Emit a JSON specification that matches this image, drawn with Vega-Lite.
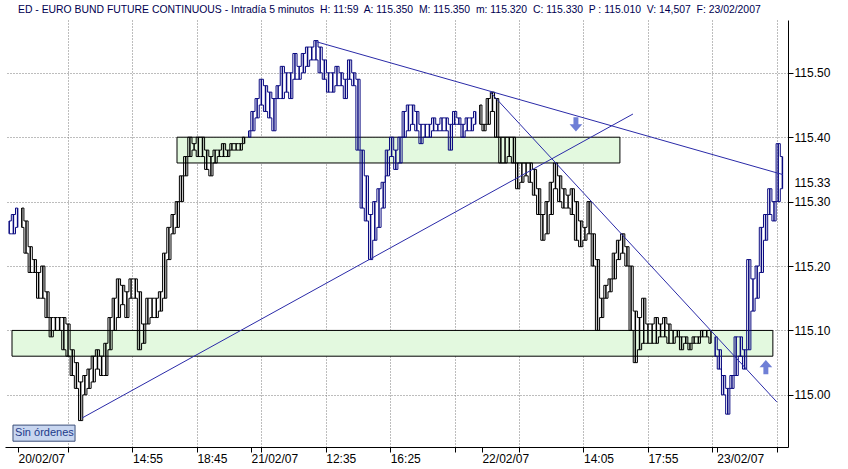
{
"$schema": "https://vega.github.io/schema/vega-lite/v6.json",
"width": 783,
"height": 427,
"autosize": {"type": "none"},
"padding": {"left": 5, "top": 20, "right": 60, "bottom": 22},
"background": "#ffffff",
"config": {"view": {"stroke": null}, "font": "Liberation Sans"},
"title": {"text": "ED - EURO BUND FUTURE CONTINUOUS - Intradía 5 minutos\u00a0 H: 11:59\u00a0 A: 115.350\u00a0 M: 115.350\u00a0 m: 115.320\u00a0 C: 115.330\u00a0 P : 115.010\u00a0 V: 14,507\u00a0 F: 23/02/2007", "anchor": "start", "align": "left", "frame": "group", "orient": "top", "offset": 5, "dx": 13, "fontSize": 10.4, "fontWeight": "normal", "font": "Liberation Sans", "color": "#000050"},
"datasets": {
"bars": [
{"k":3,"h":115.27,"l":115.25,"phase":"1"},{"k":6,"h":115.28,"l":115.25,"phase":"1"},{"k":9,"h":115.29,"l":115.26,"phase":"1"},
{"k":12,"h":115.29,"l":115.26,"phase":"2"},{"k":15,"h":115.27,"l":115.22,"phase":"2"},{"k":18,"h":115.23,"l":115.19,"phase":"2"},{"k":21,"h":115.21,"l":115.19,"phase":"2"},{"k":24,"h":115.19,"l":115.15,"phase":"2"},{"k":27,"h":115.20,"l":115.15,"phase":"2"},{"k":30,"h":115.16,"l":115.12,"phase":"2"},{"k":33,"h":115.12,"l":115.09,"phase":"2"},{"k":36,"h":115.12,"l":115.10,"phase":"2"},{"k":39,"h":115.12,"l":115.10,"phase":"2"},{"k":42,"h":115.12,"l":115.07,"phase":"2"},{"k":45,"h":115.11,"l":115.06,"phase":"2"},{"k":48,"h":115.07,"l":115.03,"phase":"2"},{"k":51,"h":115.05,"l":115.01,"phase":"2"},{"k":54,"h":115.02,"l":114.96,"phase":"2"},{"k":57,"h":115.03,"l":115.00,"phase":"2"},{"k":60,"h":115.04,"l":115.01,"phase":"2"},{"k":63,"h":115.06,"l":115.02,"phase":"2"},{"k":66,"h":115.07,"l":115.04,"phase":"2"},{"k":69,"h":115.06,"l":115.03,"phase":"2"},{"k":72,"h":115.08,"l":115.03,"phase":"2"},{"k":75,"h":115.12,"l":115.07,"phase":"2"},{"k":78,"h":115.15,"l":115.10,"phase":"2"},{"k":81,"h":115.18,"l":115.12,"phase":"2"},{"k":84,"h":115.17,"l":115.14,"phase":"2"},{"k":87,"h":115.16,"l":115.12,"phase":"2"},{"k":90,"h":115.18,"l":115.15,"phase":"2"},{"k":93,"h":115.18,"l":115.15,"phase":"2"},{"k":96,"h":115.16,"l":115.07,"phase":"2"},{"k":99,"h":115.11,"l":115.08,"phase":"2"},{"k":102,"h":115.15,"l":115.11,"phase":"2"},{"k":105,"h":115.15,"l":115.12,"phase":"2"},{"k":108,"h":115.15,"l":115.12,"phase":"2"},{"k":111,"h":115.16,"l":115.13,"phase":"2"},{"k":114,"h":115.22,"l":115.15,"phase":"2"},{"k":117,"h":115.26,"l":115.21,"phase":"2"},{"k":120,"h":115.28,"l":115.25,"phase":"2"},{"k":123,"h":115.30,"l":115.26,"phase":"2"},{"k":126,"h":115.34,"l":115.30,"phase":"2"},{"k":129,"h":115.37,"l":115.34,"phase":"2"},{"k":132,"h":115.40,"l":115.37,"phase":"2"},{"k":135,"h":115.39,"l":115.38,"phase":"2"},{"k":138,"h":115.40,"l":115.37,"phase":"2"},{"k":141,"h":115.40,"l":115.37,"phase":"2"},{"k":144,"h":115.38,"l":115.35,"phase":"2"},{"k":147,"h":115.37,"l":115.34,"phase":"2"},{"k":150,"h":115.38,"l":115.36,"phase":"2"},{"k":153,"h":115.38,"l":115.37,"phase":"2"},{"k":156,"h":115.39,"l":115.37,"phase":"2"},{"k":159,"h":115.38,"l":115.37,"phase":"2"},{"k":162,"h":115.39,"l":115.38,"phase":"2"},{"k":165,"h":115.39,"l":115.38,"phase":"2"},{"k":168,"h":115.39,"l":115.38,"phase":"2"},{"k":171,"h":115.40,"l":115.39,"phase":"2"},
{"k":174,"h":115.41,"l":115.40,"phase":"3"},{"k":177,"h":115.44,"l":115.41,"phase":"3"},{"k":180,"h":115.46,"l":115.43,"phase":"3"},{"k":183,"h":115.49,"l":115.45,"phase":"3"},{"k":186,"h":115.48,"l":115.44,"phase":"3"},{"k":189,"h":115.47,"l":115.43,"phase":"3"},{"k":192,"h":115.46,"l":115.41,"phase":"3"},{"k":195,"h":115.48,"l":115.46,"phase":"3"},{"k":198,"h":115.51,"l":115.46,"phase":"3"},{"k":201,"h":115.50,"l":115.47,"phase":"3"},{"k":204,"h":115.50,"l":115.46,"phase":"3"},{"k":207,"h":115.53,"l":115.49,"phase":"3"},{"k":210,"h":115.51,"l":115.49,"phase":"3"},{"k":213,"h":115.53,"l":115.50,"phase":"3"},{"k":216,"h":115.54,"l":115.51,"phase":"3"},{"k":219,"h":115.54,"l":115.52,"phase":"3"},{"k":222,"h":115.55,"l":115.52,"phase":"3"},{"k":225,"h":115.54,"l":115.50,"phase":"3"},{"k":228,"h":115.52,"l":115.49,"phase":"3"},{"k":231,"h":115.50,"l":115.47,"phase":"3"},{"k":234,"h":115.50,"l":115.47,"phase":"3"},{"k":237,"h":115.51,"l":115.48,"phase":"3"},{"k":240,"h":115.50,"l":115.48,"phase":"3"},{"k":243,"h":115.49,"l":115.46,"phase":"3"},{"k":246,"h":115.52,"l":115.49,"phase":"3"},{"k":249,"h":115.50,"l":115.48,"phase":"3"},{"k":252,"h":115.49,"l":115.38,"phase":"3"},{"k":255,"h":115.38,"l":115.29,"phase":"3"},{"k":258,"h":115.34,"l":115.27,"phase":"3"},{"k":261,"h":115.28,"l":115.21,"phase":"3"},{"k":264,"h":115.30,"l":115.24,"phase":"3"},{"k":267,"h":115.32,"l":115.26,"phase":"3"},{"k":270,"h":115.33,"l":115.29,"phase":"3"},{"k":273,"h":115.38,"l":115.34,"phase":"3"},{"k":276,"h":115.40,"l":115.37,"phase":"3"},{"k":279,"h":115.38,"l":115.35,"phase":"3"},{"k":282,"h":115.40,"l":115.36,"phase":"3"},{"k":285,"h":115.44,"l":115.40,"phase":"3"},{"k":288,"h":115.45,"l":115.41,"phase":"3"},{"k":291,"h":115.45,"l":115.42,"phase":"3"},{"k":294,"h":115.44,"l":115.41,"phase":"3"},{"k":297,"h":115.42,"l":115.39,"phase":"3"},{"k":300,"h":115.42,"l":115.40,"phase":"3"},{"k":303,"h":115.42,"l":115.40,"phase":"3"},{"k":306,"h":115.43,"l":115.41,"phase":"3"},{"k":309,"h":115.42,"l":115.41,"phase":"3"},{"k":312,"h":115.43,"l":115.41,"phase":"3"},{"k":315,"h":115.43,"l":115.41,"phase":"3"},{"k":318,"h":115.42,"l":115.38,"phase":"3"},{"k":321,"h":115.44,"l":115.42,"phase":"3"},{"k":324,"h":115.43,"l":115.42,"phase":"3"},{"k":327,"h":115.42,"l":115.40,"phase":"3"},{"k":330,"h":115.43,"l":115.41,"phase":"3"},{"k":333,"h":115.43,"l":115.41,"phase":"3"},{"k":336,"h":115.44,"l":115.42,"phase":"3"},
{"k":339,"h":115.45,"l":115.42,"phase":"4"},{"k":342,"h":115.42,"l":115.41,"phase":"4"},{"k":345,"h":115.46,"l":115.42,"phase":"4"},{"k":348,"h":115.47,"l":115.44,"phase":"4"},{"k":351,"h":115.46,"l":115.40,"phase":"4"},{"k":354,"h":115.40,"l":115.36,"phase":"4"},{"k":357,"h":115.40,"l":115.36,"phase":"4"},{"k":360,"h":115.40,"l":115.37,"phase":"4"},{"k":363,"h":115.40,"l":115.36,"phase":"4"},{"k":366,"h":115.36,"l":115.32,"phase":"4"},{"k":369,"h":115.36,"l":115.33,"phase":"4"},{"k":372,"h":115.36,"l":115.34,"phase":"4"},{"k":375,"h":115.36,"l":115.33,"phase":"4"},{"k":378,"h":115.35,"l":115.31,"phase":"4"},{"k":381,"h":115.32,"l":115.28,"phase":"4"},{"k":384,"h":115.28,"l":115.24,"phase":"4"},{"k":387,"h":115.30,"l":115.25,"phase":"4"},{"k":390,"h":115.33,"l":115.28,"phase":"4"},{"k":393,"h":115.36,"l":115.32,"phase":"4"},{"k":396,"h":115.34,"l":115.30,"phase":"4"},{"k":399,"h":115.32,"l":115.29,"phase":"4"},{"k":402,"h":115.31,"l":115.29,"phase":"4"},{"k":405,"h":115.32,"l":115.28,"phase":"4"},{"k":408,"h":115.30,"l":115.24,"phase":"4"},{"k":411,"h":115.27,"l":115.23,"phase":"4"},{"k":414,"h":115.26,"l":115.24,"phase":"4"},{"k":417,"h":115.30,"l":115.25,"phase":"4"},{"k":420,"h":115.25,"l":115.20,"phase":"4"},{"k":423,"h":115.21,"l":115.10,"phase":"4"},{"k":426,"h":115.15,"l":115.12,"phase":"4"},{"k":429,"h":115.17,"l":115.15,"phase":"4"},{"k":432,"h":115.18,"l":115.16,"phase":"4"},{"k":435,"h":115.22,"l":115.18,"phase":"4"},{"k":438,"h":115.24,"l":115.21,"phase":"4"},{"k":441,"h":115.25,"l":115.22,"phase":"4"},{"k":444,"h":115.23,"l":115.20,"phase":"4"},{"k":447,"h":115.20,"l":115.10,"phase":"4"},{"k":450,"h":115.13,"l":115.05,"phase":"4"},{"k":453,"h":115.12,"l":115.07,"phase":"4"},{"k":456,"h":115.15,"l":115.08,"phase":"4"},{"k":459,"h":115.11,"l":115.08,"phase":"4"},{"k":462,"h":115.11,"l":115.08,"phase":"4"},{"k":465,"h":115.12,"l":115.08,"phase":"4"},{"k":468,"h":115.11,"l":115.09,"phase":"4"},{"k":471,"h":115.12,"l":115.09,"phase":"4"},{"k":474,"h":115.11,"l":115.08,"phase":"4"},{"k":477,"h":115.10,"l":115.08,"phase":"4"},{"k":480,"h":115.10,"l":115.09,"phase":"4"},{"k":483,"h":115.09,"l":115.07,"phase":"4"},{"k":486,"h":115.09,"l":115.08,"phase":"4"},{"k":489,"h":115.08,"l":115.07,"phase":"4"},{"k":492,"h":115.09,"l":115.08,"phase":"4"},{"k":495,"h":115.09,"l":115.08,"phase":"4"},{"k":498,"h":115.10,"l":115.09,"phase":"4"},{"k":501,"h":115.10,"l":115.09,"phase":"4"},{"k":504,"h":115.10,"l":115.08,"phase":"4"},
{"k":507,"h":115.09,"l":115.06,"phase":"5"},{"k":510,"h":115.07,"l":115.04,"phase":"5"},{"k":513,"h":115.03,"l":115.00,"phase":"5"},{"k":516,"h":115.01,"l":114.97,"phase":"5"},{"k":519,"h":115.03,"l":115.01,"phase":"5"},{"k":522,"h":115.09,"l":115.03,"phase":"5"},{"k":525,"h":115.09,"l":115.06,"phase":"5"},{"k":528,"h":115.07,"l":115.04,"phase":"5"},{"k":531,"h":115.21,"l":115.07,"phase":"5"},{"k":534,"h":115.18,"l":115.13,"phase":"5"},{"k":537,"h":115.20,"l":115.15,"phase":"5"},{"k":540,"h":115.26,"l":115.19,"phase":"5"},{"k":543,"h":115.28,"l":115.24,"phase":"5"},{"k":546,"h":115.32,"l":115.28,"phase":"5"},{"k":549,"h":115.30,"l":115.27,"phase":"5"},{"k":552,"h":115.39,"l":115.30,"phase":"5"},{"k":555,"h":115.37,"l":115.32,"phase":"5"}
],
"zones": [
{"k1":122.8,"k2":439,"p1":115.40,"p2":115.36},
{"k1":5,"k2":548.2,"p1":115.10,"p2":115.06}
],
"lines": [
{"id":"a","k":55,"p":114.964},{"id":"a","k":448.3,"p":115.436},
{"id":"b","k":222.7,"p":115.548},{"id":"b","k":555.3,"p":115.342},
{"id":"c","k":346.2,"p":115.4705},{"id":"c","k":551,"p":114.989}
],
"arrows": [
{"k":407.6,"p":115.42,"dir":"down"},
{"k":543.2,"p":115.043,"dir":"up"}
],
"notes": [
{"k1":5.7,"k2":50,"p1":114.953,"p2":114.928,"kt":7.2,"pt":114.9405,"label":"Sin órdenes"}
]
},
"layer": [
{
"data": {"name": "zones"},
"mark": {"type": "rect", "fill": "#e3f9df", "stroke": "#000000", "strokeWidth": 1},
"encoding": {
"x": {"field": "k1", "type": "quantitative", "scale": {"domain": [0, 559], "nice": false, "zero": false},
"axis": {"title": null, "orient": "bottom", "values": [9.3, 45, 91, 137, 175.6, 183, 229, 275, 321, 340.5, 367, 413, 459, 505, 508.2, 551],
"labelExpr": "datum.value == 9.3 ? '20/02/07' : datum.value == 91 ? '14:55' : datum.value == 137 ? '18:45' : datum.value == 175.6 ? '21/02/07' : datum.value == 229 ? '12:35' : datum.value == 275 ? '16:25' : datum.value == 340.5 ? '22/02/07' : datum.value == 413 ? '14:05' : datum.value == 459 ? '17:55' : datum.value == 508.2 ? '23/02/07' : ''",
"labelAlign": "left", "labelBaseline": "top", "labelPadding": 1, "labelFontSize": 12, "labelFont": "Liberation Sans", "labelColor": "#000000", "labelOverlap": false, "labelFlush": false,
"tickColor": "#000000", "tickSize": 5, "domainColor": "#000000",
"grid": true, "gridColor": "#7a7a7a", "gridDash": [1, 2],
"gridOpacity": {"condition": {"test": "datum.value == 9.3 || datum.value == 175.6 || datum.value == 340.5 || datum.value == 508.2", "value": 0}, "value": 1}}},
"x2": {"field": "k2"},
"y": {"field": "p1", "type": "quantitative", "scale": {"domain": [114.919, 115.582], "nice": false, "zero": false},
"axis": {"title": null, "orient": "right", "values": [115, 115.1, 115.2, 115.3, 115.33, 115.4, 115.5],
"labelExpr": "format(datum.value, '.2f')", "labelFontSize": 12, "labelFont": "Liberation Sans", "labelColor": "#000000", "labelPadding": 1, "labelOverlap": false, "labelFlush": false,
"tickSize": 5, "tickColor": "#000000", "domainColor": "#000000",
"grid": true, "gridColor": "#7a7a7a", "gridDash": [1, 2],
"gridOpacity": {"condition": {"test": "datum.value == 115.33", "value": 0}, "value": 1},
"tickOpacity": {"condition": {"test": "datum.value == 115.33", "value": 0}, "value": 1}}},
"y2": {"field": "p2"}
}
},
{
"data": {"name": "bars"},
"mark": {"type": "rule", "strokeWidth": 1.5},
"encoding": {
"x": {"field": "k", "type": "quantitative"},
"y": {"field": "l", "type": "quantitative"},
"y2": {"field": "h"},
"color": {"field": "phase", "type": "nominal", "scale": {"domain": ["1", "2", "3", "4", "5"], "range": ["#0a0a80", "#000000", "#0a0a80", "#000000", "#0a0a80"]}, "legend": null}
}
},
{
"data": {"name": "bars"},
"mark": {"type": "line", "interpolate": "step", "strokeWidth": 1},
"encoding": {
"x": {"field": "k", "type": "quantitative"},
"y": {"field": "h", "type": "quantitative"},
"color": {"field": "phase", "type": "nominal", "legend": null}
}
},
{
"data": {"name": "bars"},
"mark": {"type": "line", "interpolate": "step", "strokeWidth": 1},
"encoding": {
"x": {"field": "k", "type": "quantitative"},
"y": {"field": "l", "type": "quantitative"},
"color": {"field": "phase", "type": "nominal", "legend": null}
}
},
{
"data": {"name": "lines"},
"mark": {"type": "line", "color": "#2a2aa8", "strokeWidth": 1},
"encoding": {
"x": {"field": "k", "type": "quantitative"},
"y": {"field": "p", "type": "quantitative"},
"detail": {"field": "id", "type": "nominal"}
}
},
{
"data": {"name": "arrows"},
"mark": {"type": "point", "filled": true, "color": "#6f7fd6", "opacity": 1, "size": 200},
"encoding": {
"x": {"field": "k", "type": "quantitative"},
"y": {"field": "p", "type": "quantitative"},
"shape": {"field": "dir", "type": "nominal", "scale": {"domain": ["down", "up"], "range": ["M-0.35,-1L0.35,-1L0.35,0L0.9,0L0,1L-0.9,0L-0.35,0Z", "M-0.35,1L0.35,1L0.35,0L0.9,0L0,-1L-0.9,0L-0.35,0Z"]}, "legend": null}
}
},
{
"data": {"name": "notes"},
"mark": {"type": "rect", "fill": "#c8d6f0", "stroke": "#3c4f7a", "strokeWidth": 1},
"encoding": {
"x": {"field": "k1", "type": "quantitative"},
"x2": {"field": "k2"},
"y": {"field": "p1", "type": "quantitative"},
"y2": {"field": "p2"}
}
},
{
"data": {"name": "notes"},
"mark": {"type": "text", "align": "left", "baseline": "middle", "fontSize": 11, "font": "Liberation Sans", "color": "#1d3a8a"},
"encoding": {
"x": {"field": "kt", "type": "quantitative"},
"y": {"field": "pt", "type": "quantitative"},
"text": {"field": "label"}
}
}
]
}
